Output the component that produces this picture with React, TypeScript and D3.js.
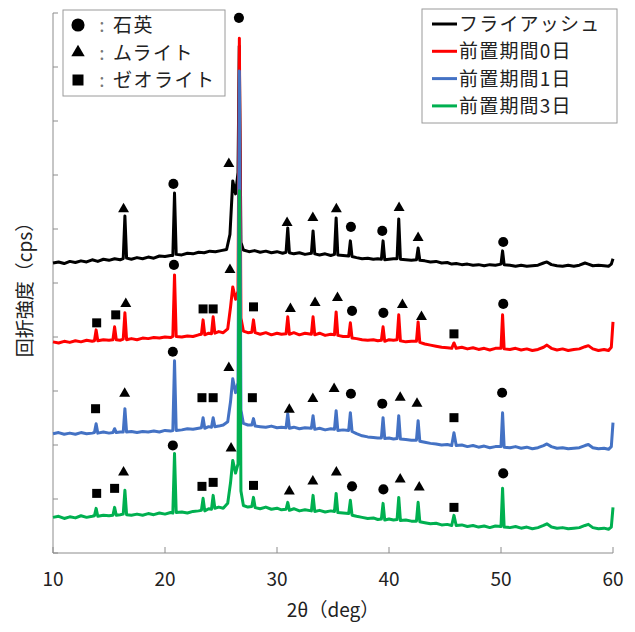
import React from 'react';
import * as d3 from 'd3';

type Pt = [number, number];
type Mark = [number, string, number];

// series labels / colours / vertical offsets (cps)
const seriesNames = ['フライアッシュ', '前置期間0日', '前置期間1日', '前置期間3日'];
const seriesColors = ['#000000', '#ff0000', '#4472c4', '#00b050'];
const seriesOffsets = [4750, 3250, 1550, 0];

// phases marked on the peaks
const phaseKeys = ['q', 'm', 'z'];
const phaseNames = ['石英', 'ムライト', 'ゼオライト'];

const xTicks = [10, 20, 30, 40, 50, 60];
const yTicks = [0, 1000, 2000, 3000, 4000, 5000, 6000, 7000, 8000, 9000, 10000];

// 2θ (deg), intensity (cps)
const flyAsh: Pt[] = [
  [10, 620], [10.5, 640], [11, 610], [11.5, 650], [12, 630], [12.5, 660], [13, 640], [13.5, 680], [14, 650], [14.5, 690],
  [15, 670], [15.5, 700], [16, 680], [16.27, 700], [16.42, 1493], [16.57, 710], [17, 690], [17.5, 720], [18, 700], [18.5, 730],
  [19, 710], [19.5, 750], [20, 740], [20.5, 760], [20.7, 760], [20.85, 1918], [21, 780], [21.5, 770], [22, 800], [22.5, 790],
  [23, 820], [23.5, 810], [24, 840], [24.5, 830], [25, 850], [25.5, 870], [25.8, 1150], [26.05, 2140], [26.3, 1900], [26.52, 2300],
  [26.63, 4640], [26.78, 1000], [27, 860], [27.5, 830], [28, 850], [28.5, 820], [29, 840], [29.5, 810], [30, 830], [30.5, 800],
  [30.81, 820], [30.96, 1270], [31.11, 810], [31.5, 790], [32, 810], [32.5, 780], [33.07, 800], [33.22, 1215], [33.37, 790], [33.8, 770],
  [34.3, 790], [34.8, 760], [35.13, 780], [35.28, 1455], [35.43, 770], [35.9, 760], [36.4, 750], [36.55, 1030], [36.7, 740], [37.1, 720],
  [37.6, 700], [38.1, 710], [38.6, 690], [39, 700], [39.32, 690], [39.47, 1030], [39.62, 680], [40, 690], [40.4, 700], [40.72, 700],
  [40.87, 1437], [41.02, 690], [41.5, 680], [42, 670], [42.45, 680], [42.6, 900], [42.75, 670], [43.2, 660], [43.7, 640], [44.2, 650],
  [44.7, 620], [45.2, 630], [45.6, 600], [46, 610], [46.5, 590], [47, 600], [47.5, 580], [48, 590], [48.5, 570], [49, 590],
  [49.5, 580], [50, 600], [50.14, 845], [50.28, 590], [50.8, 580], [51.3, 560], [51.8, 580], [52.3, 560], [52.8, 570], [53.3, 580],
  [53.8, 620], [54.1, 640], [54.5, 590], [55, 570], [55.5, 560], [56, 580], [56.5, 560], [57, 580], [57.5, 620], [57.8, 600],
  [58.2, 570], [58.7, 580], [59.2, 570], [59.6, 560], [59.85, 600], [60, 700],
];

const day0: Pt[] = [
  [10, 660], [10.5, 640], [11, 670], [11.5, 650], [12, 680], [12.5, 660], [13, 690], [13.5, 670], [13.7, 680], [13.85, 882],
  [14, 680], [14.5, 700], [15, 690], [15.35, 700], [15.5, 938], [15.65, 700], [16, 690], [16.27, 710], [16.42, 1197], [16.57, 700],
  [17, 720], [17.5, 700], [18, 730], [18.5, 720], [19, 740], [19.5, 730], [20, 750], [20.5, 740], [20.7, 760], [20.85, 1900],
  [21, 760], [21.5, 750], [22, 770], [22.5, 760], [23, 790], [23.25, 800], [23.4, 1067], [23.55, 790], [23.9, 820], [24.15, 810],
  [24.3, 1123], [24.45, 820], [24.8, 850], [25.2, 830], [25.6, 900], [25.85, 1300], [26.05, 1678], [26.3, 1450], [26.52, 1600], [26.64, 6284],
  [26.78, 1100], [27, 860], [27.4, 830], [27.75, 840], [27.9, 1067], [28.05, 830], [28.5, 800], [29, 830], [29.5, 790], [30, 820],
  [30.4, 800], [30.81, 810], [30.96, 1123], [31.11, 800], [31.5, 830], [32, 790], [32.5, 820], [33.07, 800], [33.22, 1123], [33.37, 790],
  [33.8, 820], [34.3, 780], [34.8, 800], [35.13, 790], [35.28, 1215], [35.43, 780], [35.9, 760], [36.4, 760], [36.55, 1012], [36.7, 730],
  [37.1, 720], [37.6, 700], [38.1, 690], [38.6, 700], [39, 680], [39.32, 690], [39.47, 938], [39.62, 670], [40, 700], [40.4, 690],
  [40.72, 700], [40.87, 1160], [41.02, 680], [41.5, 660], [42, 670], [42.45, 670], [42.6, 1030], [42.75, 650], [43.2, 620], [43.7, 600],
  [44.2, 580], [44.7, 560], [45.2, 550], [45.6, 540], [45.8, 640], [46, 540], [46.5, 560], [47, 530], [47.5, 550], [48, 520],
  [48.5, 540], [49, 510], [49.5, 540], [50, 540], [50.14, 1160], [50.28, 530], [50.8, 520], [51.3, 540], [51.8, 510], [52.3, 530],
  [52.8, 500], [53.3, 520], [53.8, 560], [54.1, 600], [54.5, 540], [55, 510], [55.5, 530], [56, 500], [56.5, 520], [57, 530],
  [57.5, 570], [57.8, 590], [58.2, 530], [58.7, 500], [59.2, 520], [59.6, 500], [59.85, 560], [60, 1030],
];

const day1: Pt[] = [
  [10, 660], [10.5, 680], [11, 650], [11.5, 670], [12, 650], [12.5, 680], [13, 660], [13.5, 670], [13.7, 680], [13.85, 845],
  [14, 670], [14.5, 690], [15, 670], [15.35, 680], [15.5, 752], [15.65, 680], [16, 690], [16.27, 690], [16.42, 1122], [16.57, 690],
  [17, 700], [17.5, 680], [18, 700], [18.5, 690], [19, 710], [19.5, 690], [20, 720], [20.5, 710], [20.7, 720], [20.85, 2010],
  [21, 720], [21.5, 730], [22, 750], [22.5, 740], [23, 760], [23.25, 770], [23.4, 956], [23.55, 760], [23.9, 790], [24.15, 780],
  [24.3, 956], [24.45, 790], [24.8, 800], [25.2, 820], [25.6, 880], [25.85, 1250], [26.05, 1678], [26.3, 1420], [26.52, 1600], [26.64, 7375],
  [26.78, 1100], [27, 850], [27.4, 820], [27.75, 820], [27.9, 938], [28.05, 800], [28.5, 790], [29, 780], [29.5, 800], [30, 770],
  [30.4, 780], [30.81, 770], [30.96, 1030], [31.11, 760], [31.5, 780], [32, 750], [32.5, 770], [33.07, 760], [33.22, 993], [33.37, 740],
  [33.8, 760], [34.3, 730], [34.8, 750], [35.13, 740], [35.28, 1085], [35.43, 720], [35.9, 730], [36.4, 720], [36.55, 1048], [36.7, 700],
  [37.1, 660], [37.6, 620], [38.1, 600], [38.6, 590], [39, 580], [39.32, 580], [39.47, 956], [39.62, 570], [40, 580], [40.4, 560],
  [40.72, 570], [40.87, 993], [41.02, 560], [41.5, 550], [42, 540], [42.45, 540], [42.6, 900], [42.75, 520], [43.2, 500], [43.7, 480],
  [44.2, 470], [44.7, 450], [45.2, 460], [45.6, 440], [45.8, 678], [46, 440], [46.5, 450], [47, 420], [47.5, 440], [48, 410],
  [48.5, 430], [49, 400], [49.5, 420], [50, 420], [50.14, 1048], [50.28, 410], [50.8, 400], [51.3, 420], [51.8, 390], [52.3, 410],
  [52.8, 380], [53.3, 400], [53.8, 440], [54.1, 470], [54.5, 420], [55, 390], [55.5, 400], [56, 380], [56.5, 390], [57, 400],
  [57.5, 440], [57.8, 460], [58.2, 400], [58.7, 380], [59.2, 390], [59.6, 370], [59.85, 420], [60, 863],
];

const day3: Pt[] = [
  [10, 660], [10.5, 680], [11, 640], [11.5, 670], [12, 650], [12.5, 690], [13, 660], [13.5, 680], [13.7, 690], [13.85, 827],
  [14, 680], [14.5, 700], [15, 690], [15.35, 700], [15.5, 845], [15.65, 700], [16, 710], [16.27, 720], [16.42, 1160], [16.57, 710],
  [17, 700], [17.5, 720], [18, 700], [18.5, 730], [19, 710], [19.5, 740], [20, 720], [20.5, 750], [20.7, 740], [20.85, 1844],
  [21, 750], [21.5, 760], [22, 740], [22.5, 770], [23, 780], [23.25, 790], [23.4, 1012], [23.55, 780], [23.9, 820], [24.15, 810],
  [24.3, 1067], [24.45, 830], [24.8, 850], [25.2, 830], [25.6, 920], [25.85, 1300], [26.05, 1715], [26.3, 1480], [26.52, 1650], [26.64, 6710],
  [26.78, 1150], [27, 880], [27.4, 850], [27.75, 860], [27.9, 1030], [28.05, 840], [28.5, 820], [29, 850], [29.5, 810], [30, 830],
  [30.4, 800], [30.81, 810], [30.96, 938], [31.11, 790], [31.5, 820], [32, 780], [32.5, 800], [33.07, 780], [33.22, 1067], [33.37, 770],
  [33.8, 790], [34.3, 760], [34.8, 780], [35.13, 770], [35.28, 1104], [35.43, 750], [35.9, 740], [36.4, 730], [36.55, 975], [36.7, 700],
  [37.1, 680], [37.6, 660], [38.1, 640], [38.6, 650], [39, 620], [39.32, 630], [39.47, 919], [39.62, 610], [40, 630], [40.4, 610],
  [40.72, 620], [40.87, 1030], [41.02, 600], [41.5, 610], [42, 590], [42.45, 590], [42.6, 938], [42.75, 580], [43.2, 560], [43.7, 540],
  [44.2, 550], [44.7, 520], [45.2, 530], [45.6, 510], [45.8, 697], [46, 510], [46.5, 520], [47, 490], [47.5, 510], [48, 480],
  [48.5, 500], [49, 470], [49.5, 500], [50, 490], [50.14, 1197], [50.28, 480], [50.8, 470], [51.3, 490], [51.8, 460], [52.3, 480],
  [52.8, 450], [53.3, 470], [53.8, 510], [54.1, 540], [54.5, 480], [55, 460], [55.5, 470], [56, 450], [56.5, 460], [57, 470],
  [57.5, 510], [57.8, 530], [58.2, 470], [58.7, 450], [59.2, 460], [59.6, 440], [59.85, 480], [60, 845],
];

// peak annotations: 2θ, phase, level (cps, before offset)
const flyAshMarks: Mark[] = [
  [16.3, 'm', 1620], [20.75, 'q', 2085], [25.7, 'm', 2455], [26.6, 'q', 5160], [30.9, 'm', 1363], [33.2, 'm', 1455],
  [35.3, 'm', 1620], [36.6, 'q', 1290], [39.4, 'q', 1215], [40.9, 'm', 1640], [42.6, 'm', 1085], [50.2, 'q', 1010],
];
const day0Marks: Mark[] = [
  [13.9, 'z', 1012], [15.6, 'z', 1160], [16.5, 'm', 1363], [20.8, 'q', 2085], [23.4, 'z', 1270], [24.3, 'z', 1270],
  [25.8, 'm', 1992], [27.9, 'z', 1308], [31.2, 'm', 1270], [33.4, 'm', 1382], [35.4, 'm', 1474], [36.7, 'q', 1234],
  [39.5, 'q', 1197], [41.2, 'm', 1345], [42.9, 'm', 1123], [45.8, 'z', 808], [50.2, 'q', 1363],
];
const day1Marks: Mark[] = [
  [13.8, 'z', 1122], [16.4, 'm', 1400], [20.7, 'q', 2177], [23.3, 'z', 1326], [24.3, 'z', 1326], [25.7, 'm', 1881],
  [27.8, 'z', 1326], [31.1, 'm', 1104], [33.2, 'm', 1307], [35.1, 'm', 1492], [36.6, 'q', 1400], [39.4, 'q', 1215],
  [41.0, 'm', 1326], [42.5, 'm', 1215], [45.8, 'z', 956], [50.1, 'q', 1418],
];
const day3Marks: Mark[] = [
  [13.9, 'z', 1104], [15.5, 'z', 1197], [16.3, 'm', 1493], [20.7, 'q', 1992], [23.3, 'z', 1234], [24.3, 'z', 1308],
  [25.9, 'm', 1937], [27.9, 'z', 1252], [31.1, 'm', 1141], [33.2, 'm', 1326], [35.3, 'm', 1493], [36.7, 'q', 1234],
  [39.5, 'q', 1178], [41.0, 'm', 1363], [42.7, 'm', 1215], [45.8, 'z', 845], [50.2, 'q', 1474],
];

const seriesData = [flyAsh, day0, day1, day3];
const seriesMarks = [flyAshMarks, day0Marks, day1Marks, day3Marks];

const FONT = "'Noto Sans CJK JP', 'Noto Sans', sans-serif";
const TXT = '#222';
const AXIS = '#8c8c8c';

const symbolType: Record<string, d3.SymbolType> = {
  q: d3.symbolCircle,
  m: d3.symbolTriangle,
  z: d3.symbolSquare,
};
const markSize: Record<string, number> = { q: 80, m: 52, z: 81 };
const legendSize: Record<string, number> = { q: 135, m: 78, z: 121 };

export default function App() {
  const x = d3.scaleLinear().domain([10, 60]).range([53, 613]);
  const y = d3.scaleLinear().domain([0, 10000]).range([553, 13]);

  const sym = (k: string, size: number) => d3.symbol(symbolType[k], size)() || '';

  return (
    <svg width={635} height={632} style={{ position: 'absolute', left: 0, top: 0, background: '#fff' }}>
      {/* axes */}
      <line x1={x(10)} x2={x(10)} y1={y(0)} y2={y(10000)} stroke={AXIS} strokeWidth={1} />
      <line x1={x(10)} x2={x(60)} y1={y(0)} y2={y(0)} stroke={AXIS} strokeWidth={1} />
      {yTicks.map(t => (
        <line key={'yt' + t} x1={x(10)} x2={x(10) + 5} y1={y(t)} y2={y(t)} stroke={AXIS} strokeWidth={1} />
      ))}
      {xTicks.map(t => (
        <g key={'xt' + t}>
          <line x1={x(t)} x2={x(t)} y1={y(0)} y2={y(0) - 6} stroke={AXIS} strokeWidth={1} />
          <text x={x(t)} y={586} textAnchor="middle" fontFamily={FONT} fontSize={19} fill={TXT}>{t}</text>
        </g>
      ))}
      <text x={333} y={617} textAnchor="middle" fontFamily={FONT} fontSize={19} fill={TXT}>2θ（deg）</text>
      <text transform="translate(32,285) rotate(-90)" textAnchor="middle" fontFamily={FONT} fontSize={19} fill={TXT}>
        回折強度（cps）
      </text>

      {/* patterns */}
      {seriesData.map((d, i) => {
        const line = d3.line<Pt>()
          .x(p => x(p[0]))
          .y(p => y(p[1] + seriesOffsets[i]));
        return (
          <path key={'s' + i} d={line(d) || ''} fill="none" stroke={seriesColors[i]} strokeWidth={3}
            strokeLinejoin="round" />
        );
      })}

      {/* phase marks */}
      {seriesMarks.map((ms, i) =>
        ms.map((m, j) => (
          <path key={'m' + i + '-' + j} d={sym(m[1], markSize[m[1]])}
            transform={`translate(${x(m[0])},${y(m[2] + seriesOffsets[i])})`} fill="#000" />
        ))
      )}

      {/* phase legend */}
      <rect x={63} y={10} width={162} height={86} fill="#fff" stroke="#9a9a9a" strokeWidth={1} />
      {phaseKeys.map((k, i) => (
        <g key={'pl' + k} transform={`translate(0,${25 + i * 27.5})`}>
          <path d={sym(k, legendSize[k])} transform="translate(78,0)" fill="#000" />
          <text x={102} y={7} textAnchor="middle" fontFamily={FONT} fontSize={19} fill="#777">:</text>
          <text x={113} y={7} fontFamily={FONT} fontSize={19} letterSpacing={1.5} fill={TXT}>{phaseNames[i]}</text>
        </g>
      ))}

      {/* series legend */}
      <rect x={422} y={9} width={195} height={114} fill="#fff" stroke="#9a9a9a" strokeWidth={1} />
      {seriesNames.map((n, i) => (
        <g key={'sl' + i} transform={`translate(0,${24 + i * 27.3})`}>
          <line x1={432} x2={457} y1={0} y2={0} stroke={seriesColors[i]} strokeWidth={3} />
          <text x={459} y={7} fontFamily={FONT} fontSize={19} letterSpacing={1.2} fill={TXT}>{n}</text>
        </g>
      ))}
    </svg>
  );
}
